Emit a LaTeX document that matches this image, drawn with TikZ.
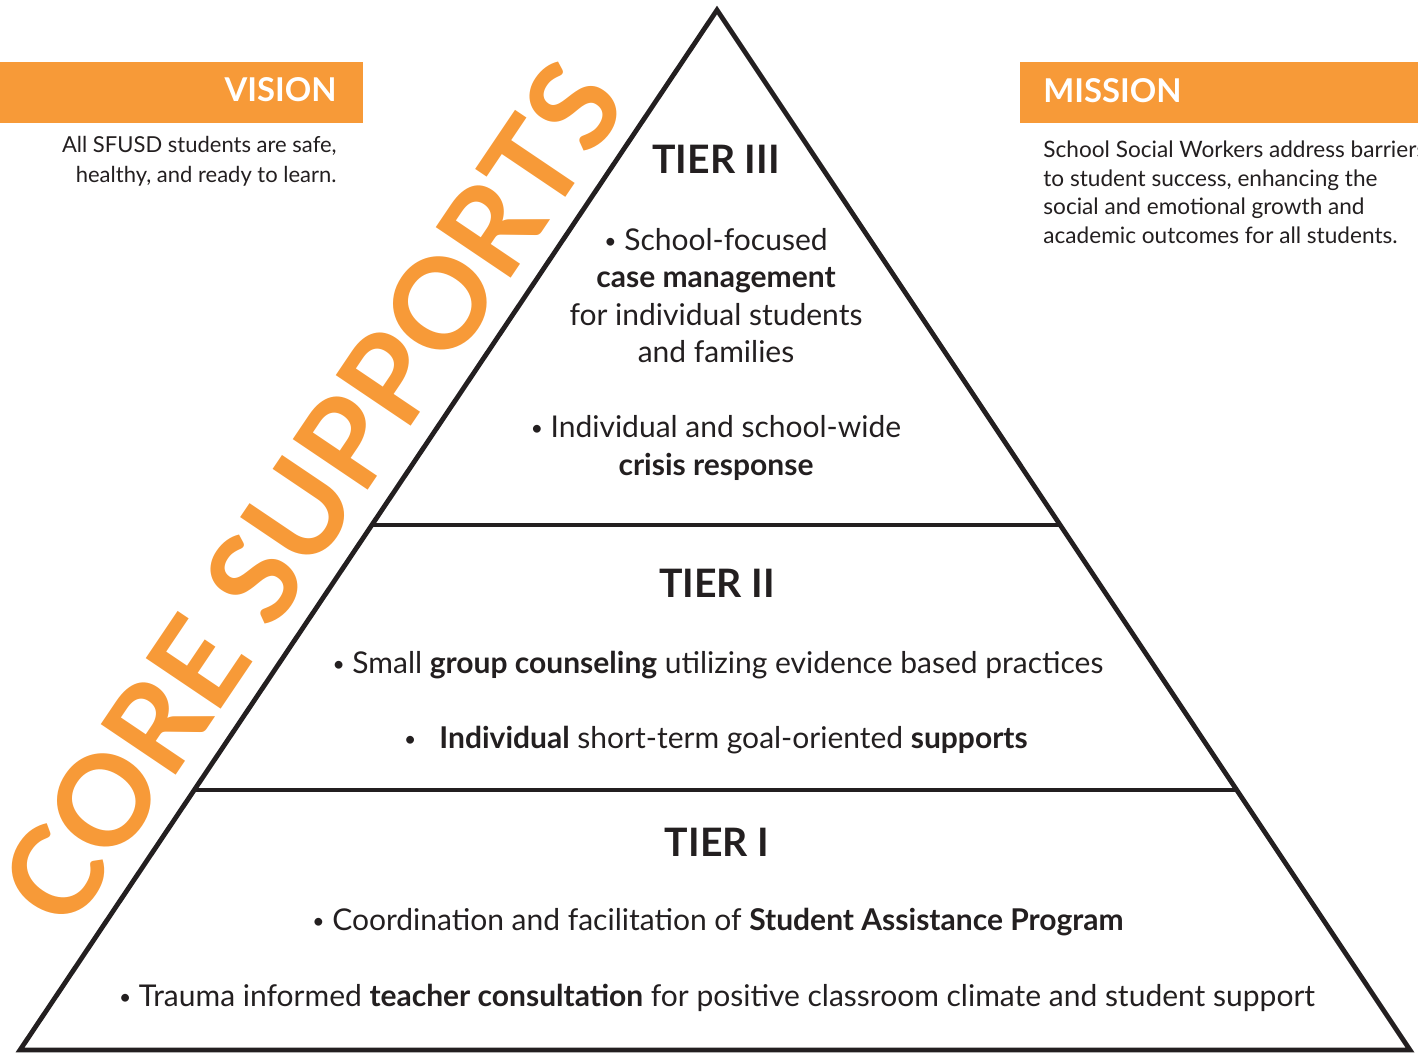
\documentclass[tikz,border=0pt]{standalone}
\usepackage{fontspec}
\setmainfont{Lato}
\usetikzlibrary{calc}
\definecolor{orng}{RGB}{247,154,56}
\definecolor{ink}{RGB}{35,31,32}
\newcommand\mybul{\raisebox{0.12ex}{\scalebox{0.7}{•}}}
\begin{document}
\begin{tikzpicture}[x=0.5pt,y=-0.5pt,
  edge/.style={draw=ink,line width=2.4pt,line join=miter},
  bar/.style={fill=orng,draw=none},
  head/.style={text=white,font=\fontsize{16.4}{20}\selectfont\bfseries,inner sep=0pt},
  blurb/.style={text=ink,font=\fontsize{11}{14}\selectfont,inner sep=0pt},
  mblurb/.style={text=ink,font=\fontsize{11.3}{14}\selectfont,inner sep=0pt},
  tier/.style={text=ink,font=\fontsize{19.6}{24}\selectfont\bfseries,inner sep=0pt,anchor=base},
  item/.style={text=ink,font=\fontsize{15}{18}\selectfont,inner sep=0pt,anchor=base},
  core/.style={text=orng,font=\fontsize{62.5}{72}\selectfont\bfseries,inner sep=0pt,anchor=base,rotate=56}]
\useasboundingbox (0,0) rectangle (1418,1054);
% vision / mission bars
\path[bar] (0,62) rectangle (363,123);
\path[bar] (1020,62) rectangle (1418,123);
\node[head,anchor=base east] (vis) at (337,102) {VISION};
\node[head,anchor=base west] (mis) at (1043,103) {MISSION};
\node[blurb,anchor=base east] (v1) at (337,153) {All SFUSD students are safe,};
\node[blurb,anchor=base east] (v2) at (337,182) {healthy, and ready to learn.};
\node[mblurb,anchor=base west] (m1) at (1043,157) {School Social Workers address barriers};
\node[mblurb,anchor=base west] (m2) at (1043,186) {to student success, enhancing the};
\node[mblurb,anchor=base west] (m3) at (1043,214) {social and emotional growth and};
\node[mblurb,anchor=base west] (m4) at (1043,243) {academic outcomes for all students.};
% core supports
\node[core] (core) at (349,519) {CORE SUPPORTS};
% pyramid
\coordinate (apex) at (717,10);
\coordinate (bl) at (20,1050);
\coordinate (br) at (1410,1050);
\draw[edge] (apex) -- (bl) -- (br) -- cycle;
\coordinate (a3) at ($(apex)!0.4952!(bl)$);
\coordinate (b3) at ($(apex)!0.4952!(br)$);
\coordinate (a2) at ($(apex)!0.75!(bl)$);
\coordinate (b2) at ($(apex)!0.75!(br)$);
\draw[edge] (a3) -- (b3);
\draw[edge] (a2) -- (b2);
% tier III
\node[tier] (t3) at (716,173) {TIER III};
\node[item] (t3a) at (716,250) {\mybul{} School-focused};
\node[item] (t3b) at (716,287) {\textbf{case management}};
\node[item] (t3c) at (716,325) {for individual students};
\node[item] (t3d) at (716,362) {and families};
\node[item] (t3e) at (716,437) {\mybul{} Individual and school-wide};
\node[item] (t3f) at (716,475) {\textbf{crisis response}};
% tier II
\node[tier] (t2) at (717,597) {TIER II};
\node[item] (t2a) at (718,673) {\mybul{} Small \textbf{group counseling} utilizing evidence based practices};
\node[item] (t2b) at (716,748) {\mybul\ \ \ \textbf{Individual} short-term goal-oriented \textbf{supports}};
% tier I
\node[tier] (t1) at (717,856) {TIER I};
\node[item] (t1a) at (718,930) {\mybul{} Coordination and facilitation of \textbf{Student Assistance Program}};
\node[item] (t1b) at (717,1006) {\mybul{} Trauma informed \textbf{teacher consultation} for positive classroom climate and student support};
\end{tikzpicture}
\end{document}
